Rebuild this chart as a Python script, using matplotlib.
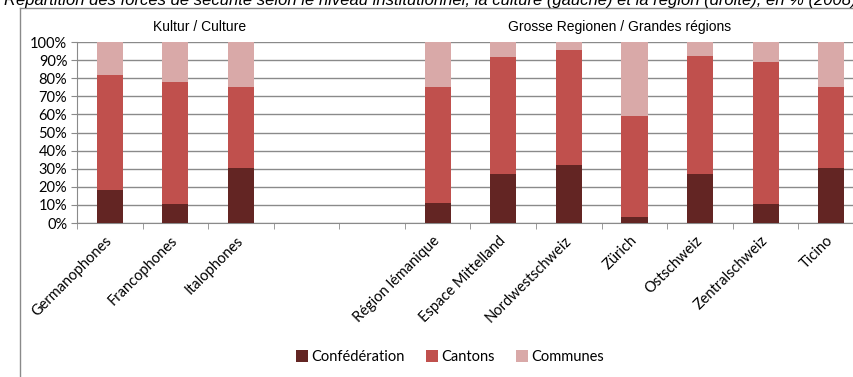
import matplotlib
matplotlib.use("Agg")
import matplotlib.pyplot as plt
import numpy as np

# Données : part en % par niveau institutionnel
categories = ["Germanophones", "Francophones", "Italophones", "", "",
              "Région lémanique", "Espace Mittelland", "Nordwestschweiz",
              "Zürich", "Ostschweiz", "Zentralschweiz", "Ticino"]
confederation = [18.5, 10.3, 30.2, 0, 0, 11.2, 27.1, 31.9, 3.1, 27.1, 10.3, 30.2]
cantons = [63.5, 67.6, 45.1, 0, 0, 63.8, 64.4, 63.5, 55.8, 65.0, 78.8, 45.1]
communes = [18.0, 22.1, 24.7, 0, 0, 25.0, 8.5, 4.6, 41.1, 7.9, 10.9, 24.7]
series_names = ["Confédération", "Cantons", "Communes"]
colors = ["#632523", "#C0504D", "#D9A9A8"]

W, H = 854, 377
fig = plt.figure(figsize=(W / 100, H / 100), dpi=100)

tick_font = ["Lato", "DejaVu Sans"]
head_font = ["Liberation Sans Narrow", "Liberation Sans", "DejaVu Sans"]

ax = fig.add_axes([77 / W, 1 - 223 / H, (864 - 77) / W, (223 - 42) / H])

x = np.arange(len(categories))
bottom = np.zeros(len(categories))
for vals, name, col in zip([confederation, cantons, communes], series_names, colors):
    ax.bar(x, vals, width=0.4, bottom=bottom, color=col, label=name, zorder=3)
    bottom += np.array(vals)

ax.set_xlim(-0.5, len(categories) - 0.5)
ax.set_ylim(0, 100)
ax.set_yticks(np.arange(0, 101, 10))
ax.set_yticklabels([f"{v}%" for v in range(0, 101, 10)], family=tick_font, fontsize=10.5)
ax.yaxis.grid(True, color="#8a8a8a", linewidth=1, zorder=0)

ax.set_xticks(x)
ax.set_xticklabels(categories, rotation=45, ha="right", va="center",
                   rotation_mode="anchor", family=tick_font, fontsize=10.5)
ax.set_xticks(np.arange(-0.5, len(categories)), minor=True)
ax.tick_params(axis="x", which="major", length=0, pad=11)
ax.tick_params(axis="x", which="minor", length=4, color="#8a8a8a", direction="out")
ax.tick_params(axis="y", length=4, color="#8a8a8a", direction="out", pad=3)

for side in ["top", "right"]:
    ax.spines[side].set_visible(False)
ax.spines["left"].set_color("#8a8a8a")
ax.spines["bottom"].set_color("#8a8a8a")

# titres de section
fig.text(200 / W, 1 - 27 / H, "Kultur / Culture", ha="center", va="center",
         family=head_font, fontsize=10)
fig.text(620 / W, 1 - 27 / H, "Grosse Regionen / Grandes régions", ha="center",
         va="center", family=head_font, fontsize=10)

# titre coupé en haut
fig.text(4 / W, 1 - 5 / H,
         "Répartition des forces de sécurité selon le niveau institutionnel, "
         "la culture (gauche) et la région (droite), en % (2008)",
         ha="left", va="baseline", style="italic",
         family=["Liberation Sans", "DejaVu Sans"], fontsize=12)

# cadre
fig.add_artist(plt.Line2D([20 / W, 20 / W], [0, 1 - 8 / H], transform=fig.transFigure,
                          color="#8a8a8a", linewidth=1))
fig.add_artist(plt.Line2D([20 / W, 1], [1 - 8 / H, 1 - 8 / H], transform=fig.transFigure,
                          color="#8a8a8a", linewidth=1))

leg = fig.legend(loc="center", bbox_to_anchor=(450 / W, 1 - 357 / H), ncol=3,
                 frameon=False, prop={"family": tick_font, "size": 10.5},
                 handlelength=0.8, handleheight=0.8, handletextpad=0.2,
                 columnspacing=1.5)

fig.savefig("out.png", dpi=100)
